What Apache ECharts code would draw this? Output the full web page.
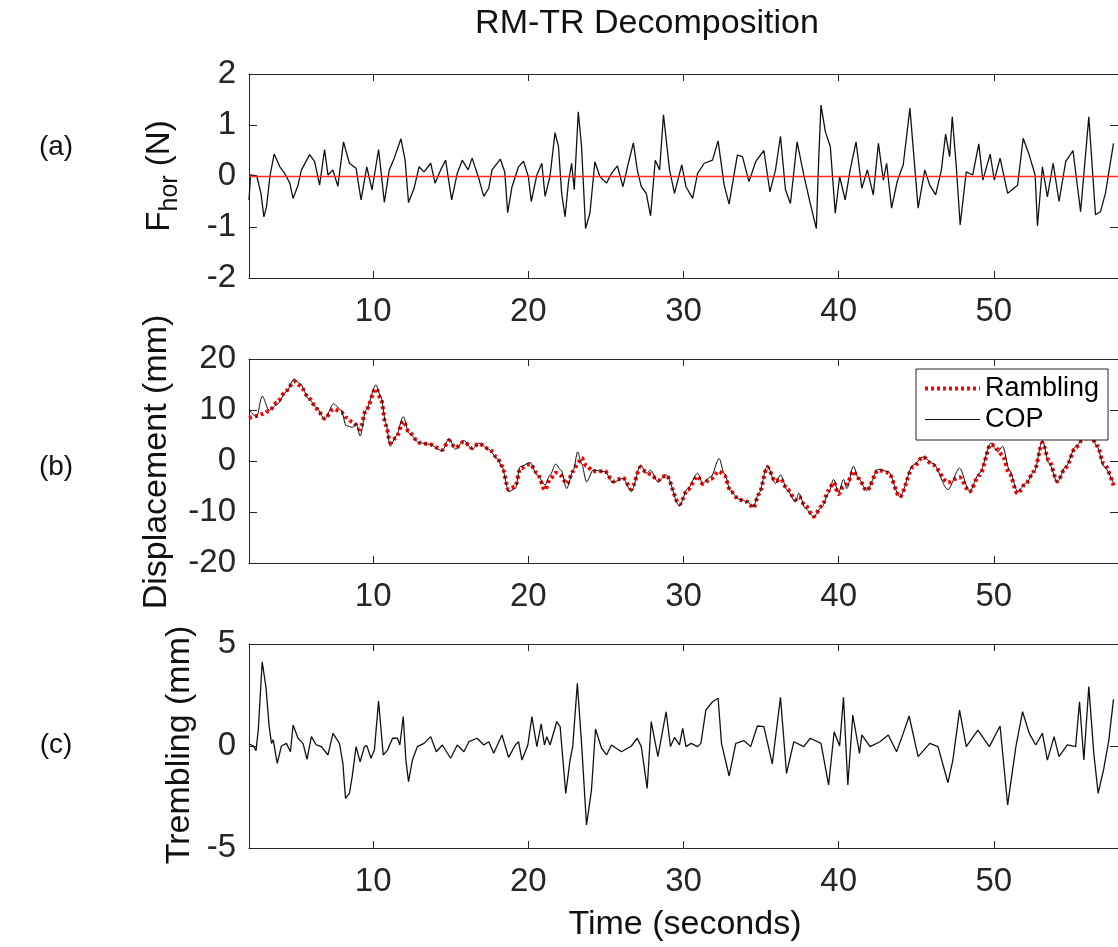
<!DOCTYPE html>
<html>
<head>
<meta charset="utf-8">
<script src="https://cdn.jsdelivr.net/npm/echarts@6.0.0/dist/echarts.min.js"></script>
<style>
html,body{margin:0;padding:0;background:#fff;}
#chart{width:1118px;height:947px;}
</style>
</head>
<body>
<div id="chart"></div>
<script>
// ---------- data (time in seconds, value) ----------
const xTicks = [10, 20, 30, 40, 50];

const forceData = [
[2.0,-0.47],[2.1,0.02],[2.5,0],[2.77,-0.34],[2.96,-0.8],[3.13,-0.6],[3.35,0],[3.62,0.43],[3.99,0.18],[4.3,0.05],[4.63,-0.14],[4.84,-0.44],[5.16,-0.18],[5.38,0.12],[5.91,0.42],[6.23,0.28],[6.55,-0.18],[6.87,0.52],[7.09,0.02],[7.4,0.12],[7.73,-0.2],[8.09,0.67],[8.47,0.25],[8.9,0.15],[9.22,-0.47],[9.59,0.18],[9.93,-0.27],[10.35,0.52],[10.57,-0.08],[10.72,-0.52],[11.04,0.12],[11.36,0.35],[11.79,0.73],[12.06,0.31],[12.28,-0.52],[12.64,-0.24],[12.96,0.18],[13.28,0.08],[13.71,0.25],[13.99,-0.14],[14.35,0.12],[14.67,0.31],[15.06,-0.47],[15.42,0.05],[15.74,0.31],[16.12,0.12],[16.38,0.35],
[16.81,-0.05],[17.13,-0.4],[17.45,-0.24],[17.66,0.12],[18.2,0.33],[18.48,0.08],[18.67,-0.72],[18.95,-0.21],[19.37,0.18],[19.69,0.29],[20.0,-0.01],[20.19,-0.5],[20.55,0.02],[20.87,0.25],[21.08,-0.4],[21.4,0],[21.72,0.85],[21.94,0.58],[22.15,-0.34],[22.37,-0.8],[22.58,-0.14],[22.79,0.25],[22.96,-0.27],[23.22,1.26],[23.43,0.58],[23.69,-1.03],[23.97,-0.73],[24.29,0.28],[24.61,-0.01],[25.04,-0.14],[25.36,0.05],[25.74,0.2],[26.1,-0.21],[26.47,0.28],[26.77,0.65],[27.02,0.12],[27.28,-0.21],[27.6,-0.34],[27.88,-0.78],[28.18,0.31],[28.46,0.12],[28.71,1.2],[29.1,0.12],[29.42,-0.34],[29.89,0.22],[30.16,-0.21],[30.59,-0.44],[30.91,0.05],
[31.34,0.25],[31.87,0.31],[32.23,0.69],[32.62,-0.18],[32.94,-0.55],[33.47,0.41],[33.8,0.38],[34.22,-0.11],[34.65,0.28],[35.18,0.5],[35.57,-0.31],[35.93,0.12],[36.25,0.78],[36.57,-0.27],[36.89,-0.54],[37.32,0.67],[37.75,0.02],[38.17,-0.54],[38.56,-1.03],[38.71,0.31],[38.86,1.39],[39.14,0.87],[39.46,0.58],[39.78,-0.73],[40.06,-0.01],[40.42,-0.47],[40.74,0.12],[41.12,0.67],[41.49,-0.24],[41.85,0.12],[42.23,-0.37],[42.56,0.64],[42.88,-0.08],[43.09,0.25],[43.41,-0.63],[43.77,-0.11],[44.16,0.22],[44.59,1.33],[45.12,-0.63],[45.55,0.12],[45.87,-0.18],[46.25,-0.37],[46.62,0.12],[46.89,0.82],[47.15,0.38],[47.32,1.16],[47.58,0.18],[47.83,-0.96],[48.22,0.08],[48.64,0.02],[49.03,0.63],[49.29,-0.08],[49.76,0.43],[50.03,-0.08],[50.4,0.35],[50.89,-0.34],[51.53,-0.18],[51.89,0.74],[52.28,0.41],[52.66,0.02],[52.81,-0.98],[53.13,0.18],[53.45,-0.41],[53.82,0.25],[54.2,-0.5],[54.63,0.28],[55.1,0.5],[55.59,-0.7],[56.12,1.16],[56.55,-0.76],[56.87,-0.7],[57.19,-0.34],[57.71,0.64]
];

const copData = [
[2.0,10.0],[2.49,8.7],[2.85,12.7],[3.3,9.9],[3.77,11.0],[4.41,13.6],[4.91,16.1],[5.27,15.2],[5.91,12.0],[6.34,10.5],[6.87,8.2],[7.45,11.2],[7.94,10.0],[8.26,6.9],[8.69,6.6],[8.9,7.4],[9.16,4.9],[9.54,10.0],[10.18,14.9],[10.5,12.6],[10.82,7.4],[11.1,2.9],[11.47,4.8],[11.94,8.7],[12.32,5.4],[12.96,3.6],[13.6,3.3],[14.46,2.0],[14.88,4.4],[15.31,2.3],[15.85,4.0],[16.38,2.3],
[16.81,3.5],[17.45,2.3],[17.99,0.5],[18.3,-1.1],[18.73,-6.0],[19.16,-5.4],[19.48,-1.1],[20.12,-0.3],[20.55,-2.7],[21.08,-4.7],[21.4,-2.7],[21.77,-0.6],[22.11,-1.8],[22.47,-5.4],[22.9,-1.8],[23.18,1.8],[23.43,-0.5],[23.75,-4.1],[24.18,-1.8],[24.93,-2.1],[25.46,-4.2],[26.1,-3.4],[26.64,-6.0],[27.24,-0.8],[27.6,-2.4],[27.88,-1.8],[28.35,-4.1],[28.88,-2.7],[29.74,-8.8],[30.27,-5.4],
[30.91,-2.4],[31.23,-4.4],[31.76,-3.1],[32.3,0.5],[32.62,-2.4],[33.05,-6.0],[33.58,-7.5],[34.12,-8.0],[34.5,-9.0],[34.86,-6.3],[35.4,-1.0],[35.93,-4.4],[36.25,-2.7],[36.68,-5.7],[37.21,-8.0],[37.43,-6.3],[37.85,-9.3],[38.39,-10.9],[38.92,-9.0],[39.35,-6.3],[39.67,-3.6],[39.99,-6.2],[40.31,-3.6],[40.53,-5.4],[40.95,-1.0],[41.27,-3.4],[41.81,-5.8],[42.55,-1.6],[43.2,-2.1],[43.94,-7.0],[44.8,-0.8],[45.44,0.8],[46.08,-0.5],[47.04,-5.6],[47.79,-1.4],[48.43,-6.0],[49.07,-2.4],[49.82,3.5],[50.25,1.8],[50.57,2.9],[51.0,-1.8],[51.53,-6.0],[52.06,-4.4],[52.6,-2.1],[53.13,4.0],[53.56,-0.5],[54.09,-4.1],[54.63,-1.1],[55.27,2.8],[55.7,4.2],[56.23,5.4],[56.66,2.8],[57.09,-1.1],[57.71,-4.4]
];

const ramblingData = [
[2.0,8.4],[2.49,8.8],[2.85,9.2],[3.3,9.8],[3.77,11.4],[4.41,13.8],[4.91,15.6],[5.27,14.8],[5.91,12.2],[6.34,10.3],[6.87,8.3],[7.45,10.2],[7.94,9.6],[8.26,8.5],[8.69,7.6],[9.16,6.2],[9.54,10.0],[10.18,14.2],[10.5,12.2],[10.82,7.0],[11.1,3.6],[11.47,4.5],[11.94,7.8],[12.32,5.6],[12.96,3.6],[13.6,3.3],[14.46,2.2],[14.88,4.0],[15.31,2.6],[15.85,3.8],[16.38,2.5],[16.81,3.4],[17.45,2.4],[17.99,0.7],[18.3,-1.0],[18.73,-5.6],[19.16,-5.0],[19.48,-1.5],[20.12,-0.6],[20.55,-2.3],[21.08,-5.7],[21.4,-3.5],[21.77,-2.3],[22.11,-2.9],[22.47,-4.5],[22.9,-2.0],[23.18,-0.5],[23.43,0.6],[23.75,-1.0],[24.18,-2.0],[24.93,-2.0],[25.46,-4.0],[26.1,-3.3],[26.64,-5.5],[27.24,-1.2],[27.6,-2.2],[27.88,-2.6],[28.35,-3.8],[28.88,-2.8],[29.74,-8.5],[30.27,-5.6],[30.91,-3.0],[31.23,-4.5],[31.76,-3.5],[32.3,-2.0],[32.62,-2.8],[33.05,-6.0],[33.58,-7.6],[34.12,-8.0],[34.5,-9.2],[34.86,-6.5],[35.4,-1.2],[35.93,-4.0],[36.25,-3.5],[36.68,-5.5],[37.21,-7.6],[37.43,-7.0],[37.85,-8.8],[38.39,-10.9],[38.92,-8.8],[39.35,-5.8],[39.67,-4.2],[39.99,-6.5],[40.31,-5.0],[40.53,-4.5],[40.95,-2.0],[41.27,-3.4],[41.81,-5.8],[42.55,-1.8],[43.2,-2.3],[43.94,-7.0],[44.8,-1.2],[45.44,0.8],[46.08,-0.8],[47.04,-4.2],[47.79,-3.2],[48.43,-6.0],[49.07,-2.8],[49.82,3.3],[50.25,2.3],[50.57,1.0],[51.0,-2.5],[51.53,-6.4],[52.06,-4.4],[52.6,-2.0],[53.13,3.6],[53.56,0.0],[54.09,-4.0],[54.63,-1.3],[55.27,2.6],[55.7,4.0],[56.23,5.0],[56.66,3.0],[57.09,-0.5],[57.71,-4.8]
];

const tremblingData = [
[2.0,0.1],[2.28,0],[2.45,-0.23],[2.6,0.8],[2.85,4.13],[3.09,2.9],[3.3,0.95],[3.45,0.13],[3.56,0.3],[3.82,-0.85],[4.09,0],[4.41,0.13],[4.67,-0.28],[4.84,1.03],[5.16,0.38],[5.48,0.13],[5.74,-0.65],[6.02,0.46],[6.34,0.05],[6.66,-0.03],[7.09,-0.44],[7.41,0.62],[7.83,0.13],[8.05,-0.85],[8.22,-2.57],[8.47,-2.32],[8.65,-1.5],[8.9,-0.03],[9.16,-0.77],[9.44,-0.03],[9.59,0.02],[9.86,-0.6],[10.08,-0.2],[10.35,2.2],[10.65,-0.44],[10.93,-0.2],[11.25,0.38],[11.57,0.38],[11.72,0.05],[11.94,1.44],[12.11,-0.69],[12.28,-1.75],[12.53,-0.69],[12.85,-0.03],[13.28,0.13],[13.71,0.46],[14.07,-0.28],[14.46,0.05],[14.99,-0.6],[15.42,0.05],[15.85,-0.28],[16.17,0.21],[16.7,0.38],
[17.13,0.05],[17.45,0.21],[17.77,-0.36],[18.3,0.54],[18.73,-0.56],[19.16,0.05],[19.37,0.21],[19.59,-0.69],[19.97,0.05],[20.23,1.44],[20.55,-0.03],[20.83,1.08],[21.04,0.05],[21.19,0.46],[21.4,0.05],[21.83,1.19],[22.05,0.95],[22.41,-2.32],[22.69,-0.69],[22.86,-0.03],[23.16,3.07],[23.43,0.13],[23.75,-3.87],[24.07,-2.16],[24.33,0.83],[24.72,-0.11],[25.04,-0.44],[25.36,0.05],[26.0,-0.28],[26.64,0],[27.02,0.38],[27.28,-0.03],[27.66,-2.08],[27.92,1.19],[28.35,-0.52],[28.88,1.68],[29.16,-0.03],[29.42,0.42],[29.74,0.05],[29.95,0.87],[30.16,-0.03],[30.49,0.13],
[30.91,-0.03],[31.12,0.13],[31.44,1.76],[31.87,2.17],[32.23,2.34],[32.45,0.13],[32.94,-1.47],[33.37,0.13],[33.9,0.26],[34.33,-0.03],[34.76,0.98],[35.18,0.95],[35.72,-0.88],[36.25,2.39],[36.64,-1.34],[37.11,0.21],[37.75,-0.03],[38.17,0.38],[38.86,0.13],[39.35,-1.91],[39.71,0.7],[40.06,0],[40.31,2.39],[40.59,-1.91],[40.91,1.52],[41.34,-0.36],[41.49,0.54],[42.02,-0.03],[42.66,0.21],[43.2,0.54],[43.73,-0.28],[44.16,0.62],[44.54,1.47],[45.12,-0.52],[45.87,0.13],[46.4,-0.03],[47.04,-1.8],[47.36,-0.69],[47.79,1.76],[48.22,-0.03],[48.97,0.78],[49.71,-0.03],[50.4,0.98],[50.89,-2.89],[51.42,-0.03],[51.85,1.68],[52.28,0.62],[52.7,0.05],[53.13,0.62],[53.45,-0.69],[53.88,0.46],[54.2,-0.52],[54.73,0.05],[55.27,-0.03],[55.52,2.17],[55.8,-0.69],[56.12,2.91],[56.44,-0.36],[56.72,-2.32],[57.09,-1.09],[57.41,0.29],[57.71,2.29]
];

// axis ranges per panel
const panelY = [
  {min: -2, max: 2, interval: 1},
  {min: -20, max: 20, interval: 10},
  {min: -5, max: 5, interval: 5}
];
const xRange = {min: 2, max: 58};

// ---------- chart ----------
const FONT = '"Liberation Sans", Arial, Helvetica, sans-serif';
const AX = '#262626';
const chart = echarts.init(document.getElementById('chart'), null, {renderer: 'canvas'});

const gridTops = [74, 359, 644];
const grids = gridTops.map(t => ({left: 249, right: -5, top: t, height: 204, containLabel: false}));

const xAxes = [], yAxes = [];
gridTops.forEach((t, i) => {
  xAxes.push({
    type: 'value', gridIndex: i, position: 'bottom', min: xRange.min, max: xRange.max,
    axisLine: {show: true, onZero: false, lineStyle: {color: AX, width: 1}},
    axisTick: {show: true, inside: true, length: 7, customValues: xTicks, lineStyle: {color: AX}},
    axisLabel: {show: true, customValues: xTicks, fontSize: 33, fontFamily: FONT, color: AX, margin: 17},
    splitLine: {show: false}
  });
  xAxes.push({
    type: 'value', gridIndex: i, position: 'top', min: xRange.min, max: xRange.max,
    axisLine: {show: true, onZero: false, lineStyle: {color: AX, width: 1}},
    axisTick: {show: true, inside: true, length: 7, customValues: xTicks, lineStyle: {color: AX}},
    axisLabel: {show: false},
    splitLine: {show: false}
  });
  const p = panelY[i];
  yAxes.push({
    type: 'value', gridIndex: i, position: 'left', min: p.min, max: p.max, interval: p.interval,
    axisLine: {show: true, onZero: false, lineStyle: {color: AX, width: 1}},
    axisTick: {show: true, inside: true, length: 8, lineStyle: {color: AX}},
    axisLabel: {show: true, fontSize: 33, fontFamily: FONT, color: AX, margin: 13},
    splitLine: {show: false}
  });
  yAxes.push({
    type: 'value', gridIndex: i, position: 'right', min: p.min, max: p.max, interval: p.interval,
    axisLine: {show: true, onZero: false, lineStyle: {color: AX, width: 1}},
    axisTick: {show: true, inside: true, length: 8, lineStyle: {color: AX}},
    axisLabel: {show: false},
    splitLine: {show: false}
  });
});

const txt = (text, x, y, size, extra) => Object.assign({
  type: 'text', x: x, y: y, silent: true,
  style: {text: text, fontSize: size, fontFamily: FONT, fill: '#111', align: 'center', verticalAlign: 'middle'}
}, extra || {});

const option = {
  animation: false,
  backgroundColor: '#fff',
  grid: grids,
  xAxis: xAxes,
  yAxis: yAxes,
  legend: {
    data: ['Rambling', 'COP'],
    orient: 'vertical', left: 916, top: 369,
    padding: [6, 9, 7, 7], itemGap: 4, itemWidth: 55, itemHeight: 14,
    backgroundColor: '#fff', borderColor: '#222', borderWidth: 1,
    itemStyle: {opacity: 0, color: 'rgba(0,0,0,0)', borderWidth: 0},
    lineStyle: {width: 'inherit'},
    textStyle: {fontSize: 27, fontFamily: FONT, color: '#000', lineHeight: 27}
  },
  series: [
    {
      name: 'Fhor', type: 'line', xAxisIndex: 0, yAxisIndex: 0, data: forceData,
      showSymbol: false, symbol: 'none', lineStyle: {color: '#111', width: 1.3},
      markLine: {silent: true, symbol: 'none', label: {show: false},
        lineStyle: {color: '#ff2b2b', width: 1.3, type: 'solid'}, data: [{yAxis: 0}]},
      z: 3
    },
    {
      name: 'Rambling', type: 'line', xAxisIndex: 2, yAxisIndex: 2, data: ramblingData,
      showSymbol: false, symbol: 'none', smooth: 0.3, smoothMonotone: 'x',
      lineStyle: {color: '#ff0000', width: 4, type: [3, 3], cap: 'butt'},
      itemStyle: {color: '#ff0000'}
    },
    {
      name: 'COP', type: 'line', xAxisIndex: 2, yAxisIndex: 2, data: copData,
      showSymbol: false, symbol: 'none', smooth: 0.3, smoothMonotone: 'x',
      lineStyle: {color: '#111', width: 1},
      itemStyle: {color: '#111'}
    },
    {
      name: 'Trembling', type: 'line', xAxisIndex: 4, yAxisIndex: 4, data: tremblingData,
      showSymbol: false, symbol: 'none', lineStyle: {color: '#111', width: 1.3}
    }
  ],
  graphic: [
    txt('RM-TR Decomposition', 647, 24, 34, {}),
    txt('Time (seconds)', 685, 925, 34, {}),
    txt('(a)', 56, 147, 28, {}),
    txt('(b)', 56, 467, 28, {}),
    txt('(c)', 56, 745, 28, {}),
    txt('Displacement (mm)', 157, 462, 34, {rotation: Math.PI / 2}),
    txt('Trembling (mm)', 180, 745, 34, {rotation: Math.PI / 2}),
    {
      type: 'text', x: 160, y: 176, rotation: Math.PI / 2, silent: true,
      style: {
        text: '{m|F}{s|hor}{m| (N)}', align: 'center', verticalAlign: 'middle',
        fontFamily: FONT, fill: '#111',
        rich: {
          m: {fontSize: 33, fontFamily: FONT, fill: '#111'},
          s: {fontSize: 25, fontFamily: FONT, fill: '#111', padding: [20, 0, 0, 0]}
        }
      }
    }
  ]
};
chart.setOption(option);
</script>
</body>
</html>
